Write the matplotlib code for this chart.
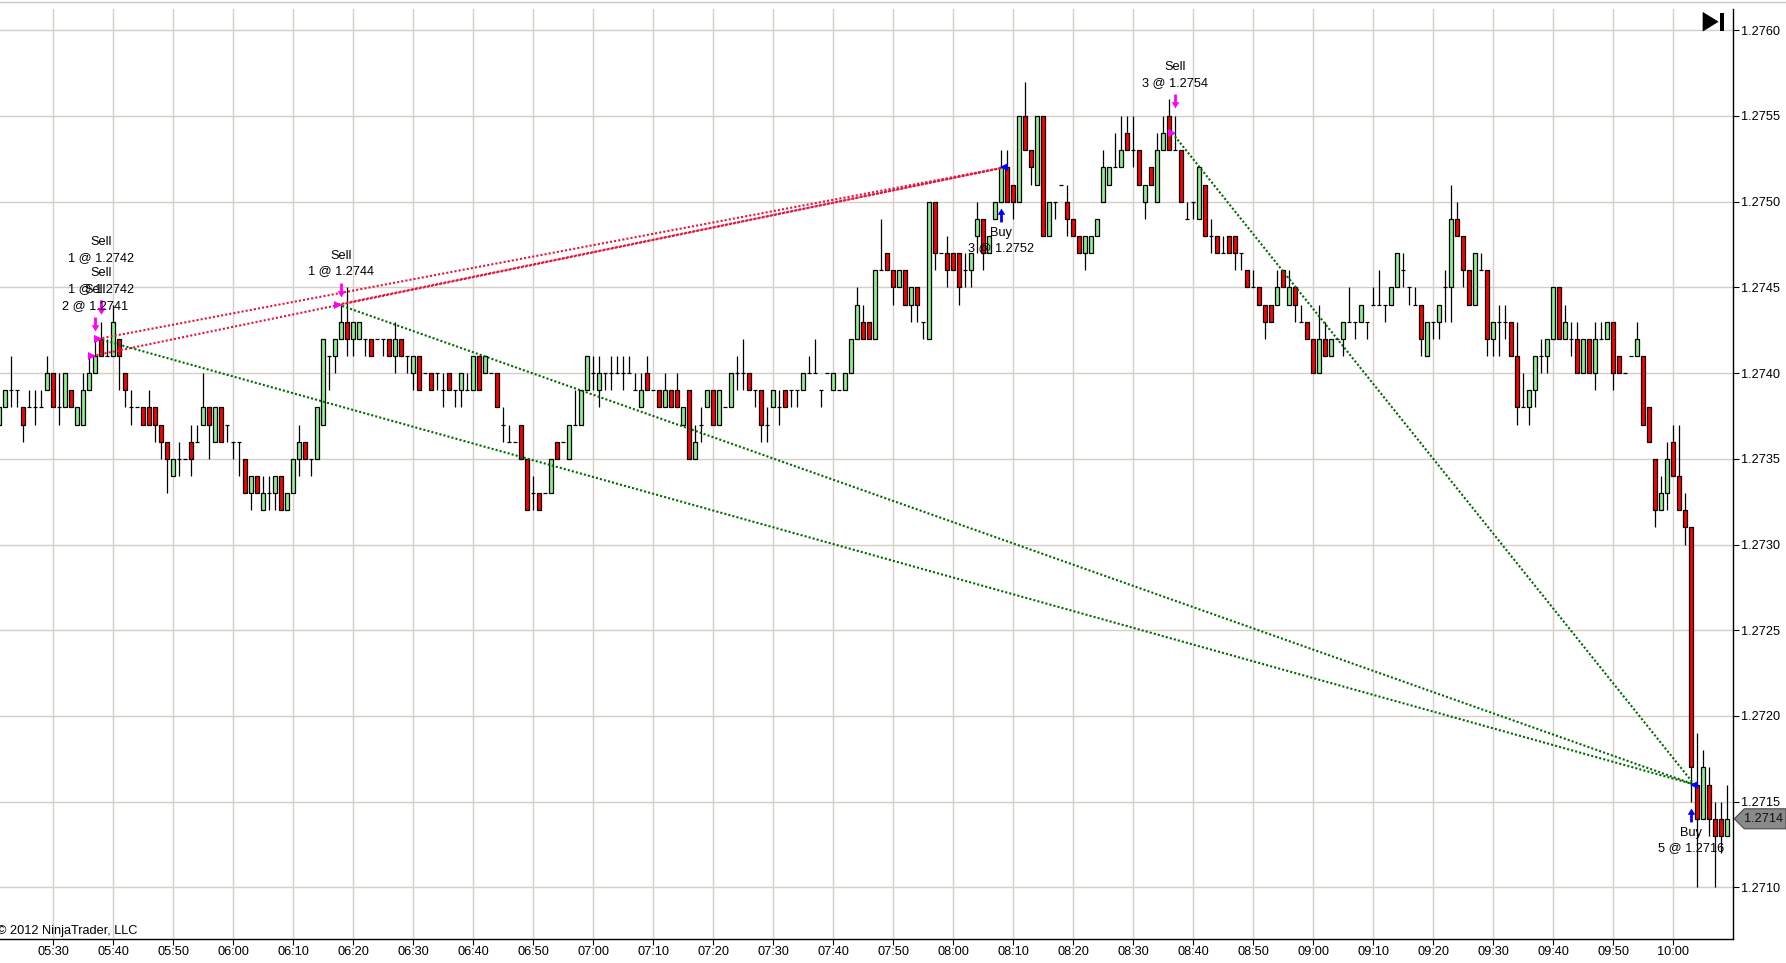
import numpy as np
import matplotlib
matplotlib.use("Agg")
import matplotlib.pyplot as plt
from matplotlib.path import Path
from matplotlib.patches import Polygon, Rectangle
from matplotlib.lines import Line2D
from matplotlib.transforms import ScaledTranslation, IdentityTransform

plt.rcParams['font.family'] = ['Liberation Sans', 'DejaVu Sans']

# ---------------- data (1-minute bars, prices = 1.2700 + pips/10000) ----------------
FIRST_BAR = "05:21"
PRICE_BASE = 1.2700
PIP = 0.0001

OPEN_PIPS = [
    37, 38, 39, 39, 38, 38, 38, 38, 39,            # 05:21-05:29
    40, 38, 38, 39, 37, 37, 39, 40, 42, 41,        # 05:30
    41, 42, 40, 38, 38, 38, 38, 38, 37, 36,        # 05:40
    34, 35, 35, 36, 36, 37, 38, 36, 38, 37,        # 05:50
    36, 36, 35, 33, 34, 32, 33, 33, 34, 32,        # 06:00
    33, 35, 36, 35, 35, 37, 41, 41, 42, 43,        # 06:10
    42, 42, 42, 42, 42, 42, 42, 41, 42, 41,        # 06:20
    40, 41, 40, 40, 40, 39, 40, 39, 39, 39,        # 06:30
    39, 41, 40, 40, 40, 37, 36, 36, 37, 35,        # 06:40
    33, 33, 33, 33, 36, 36, 35, 37, 37, 39,        # 06:50
    40, 39, 40, 40, 40, 40, 40, 39, 38, 40,        # 07:00
    39, 39, 38, 39, 39, 37, 39, 35, 37, 38,        # 07:10
    39, 37, 38, 38, 40, 40, 40, 39, 39, 37,        # 07:20
    38, 38, 39, 39, 39, 39, 40, 40, 39, 40,        # 07:30
    39, 39, 39, 40, 42, 43, 43, 42, 46, 47,        # 07:40
    46, 45, 46, 44, 45, 43, 42, 50, 47, 47,        # 07:50
    47, 47, 46, 46, 48, 49, 47, 49, 50, 52,        # 08:00
    51, 50, 55, 53, 51, 55, 48, 50, 51, 50,        # 08:10
    49, 48, 47, 47, 48, 50, 51, 52, 52, 54,        # 08:20
    53, 53, 50, 52, 50, 53, 55, 53, 53, 49,        # 08:30
    50, 49, 51, 48, 48, 47, 48, 48, 47, 46,        # 08:40
    45, 45, 44, 44, 44, 46, 44, 45, 43, 43,        # 08:50
    42, 40, 42, 41, 42, 42, 43, 43, 43, 43,        # 09:00
    44, 44, 44, 44, 45, 46, 45, 44, 44, 41,        # 09:10
    43, 43, 45, 45, 49, 48, 46, 44, 46, 46,        # 09:20
    42, 43, 43, 43, 41, 38, 38, 39, 41, 41,        # 09:30
    42, 45, 42, 42, 42, 40, 42, 40, 42, 42,        # 09:40
    43, 41, 40, 41, 41, 41, 38, 35, 32, 33,        # 09:50
    36, 34, 32, 31, 16, 14, 16, 14, 14, 13,        # 10:00
]
HIGH_PIPS = [
    38, 39, 41, 39, 38, 39, 39, 39, 41,
    40, 40, 40, 39, 38, 40, 41, 42, 43, 42,
    44, 42, 40, 39, 38, 38, 39, 38, 37, 36,
    35, 36, 35, 37, 37, 40, 38, 38, 38, 37,
    36, 36, 35, 34, 34, 34, 34, 34, 34, 33,
    35, 37, 36, 35, 38, 42, 41, 42, 44, 45,
    43, 43, 42, 42, 42, 42, 42, 43, 42, 41,
    41, 41, 40, 40, 40, 40, 40, 39, 40, 40,
    41, 41, 41, 40, 40, 38, 37, 36, 37, 35,
    34, 33, 33, 35, 36, 36, 37, 39, 39, 41,
    41, 41, 40, 41, 41, 41, 41, 40, 40, 41,
    39, 39, 40, 39, 40, 38, 39, 37, 38, 39,
    39, 39, 38, 40, 41, 42, 40, 39, 39, 38,
    39, 39, 39, 39, 39, 40, 41, 42, 39, 40,
    40, 39, 40, 42, 45, 44, 43, 46, 49, 47,
    46, 46, 46, 45, 45, 43, 50, 50, 47, 48,
    47, 47, 47, 47, 50, 49, 48, 50, 53, 53,
    51, 55, 57, 53, 55, 55, 50, 50, 51, 51,
    49, 48, 48, 48, 49, 53, 52, 54, 55, 55,
    55, 53, 51, 52, 54, 55, 56, 55, 53, 50,
    50, 52, 51, 49, 48, 48, 48, 48, 47, 46,
    46, 45, 44, 44, 46, 46, 46, 45, 44, 43,
    42, 44, 43, 42, 42, 43, 45, 43, 44, 43,
    45, 46, 44, 45, 47, 47, 45, 45, 44, 43,
    43, 44, 46, 51, 50, 48, 46, 47, 47, 46,
    43, 44, 44, 43, 43, 40, 39, 41, 42, 42,
    45, 45, 44, 43, 43, 42, 42, 43, 43, 43,
    43, 41, 40, 41, 43, 41, 38, 35, 34, 36,
    37, 37, 33, 31, 19, 18, 17, 15, 15, 16,
]
LOW_PIPS = [
    37, 38, 38, 38, 36, 38, 37, 38, 39,
    38, 37, 38, 38, 37, 37, 39, 40, 41, 41,
    41, 39, 38, 37, 38, 37, 37, 36, 35, 33,
    34, 34, 35, 34, 36, 37, 35, 36, 36, 36,
    35, 34, 33, 32, 33, 32, 32, 32, 32, 32,
    33, 34, 35, 34, 35, 37, 39, 40, 42, 41,
    41, 42, 41, 41, 42, 41, 41, 40, 41, 40,
    39, 39, 40, 39, 39, 38, 39, 38, 38, 39,
    39, 39, 40, 40, 38, 36, 36, 36, 35, 32,
    32, 32, 33, 33, 35, 36, 35, 37, 37, 39,
    39, 38, 39, 39, 40, 39, 40, 39, 38, 39,
    39, 38, 38, 38, 38, 37, 35, 35, 36, 38,
    37, 37, 38, 38, 39, 39, 39, 38, 36, 36,
    38, 37, 38, 38, 38, 39, 40, 40, 38, 40,
    39, 39, 39, 40, 42, 42, 42, 42, 46, 46,
    44, 45, 44, 43, 43, 42, 42, 46, 47, 45,
    46, 44, 45, 45, 47, 46, 47, 49, 50, 50,
    49, 50, 53, 51, 51, 48, 48, 49, 51, 48,
    48, 47, 46, 47, 48, 50, 51, 52, 52, 53,
    52, 51, 49, 51, 50, 53, 53, 53, 50, 49,
    49, 49, 48, 47, 47, 47, 47, 46, 46, 45,
    45, 44, 42, 43, 44, 45, 44, 43, 43, 42,
    40, 40, 41, 41, 42, 41, 43, 42, 43, 42,
    44, 44, 43, 44, 45, 45, 44, 44, 41, 41,
    42, 42, 43, 43, 48, 45, 44, 44, 46, 41,
    41, 41, 42, 41, 37, 38, 37, 38, 40, 40,
    42, 42, 42, 41, 40, 40, 40, 39, 42, 42,
    39, 40, 40, 41, 41, 37, 36, 31, 32, 32,
    34, 32, 30, 15, 10, 14, 13, 10, 12, 13,
]
CLOSE_PIPS = [
    38, 39, 39, 39, 37, 38, 38, 38, 40,
    38, 38, 40, 38, 38, 39, 40, 41, 41, 41,
    43, 41, 39, 38, 38, 37, 37, 37, 36, 35,
    35, 35, 35, 35, 36, 38, 37, 38, 36, 37,
    36, 36, 33, 34, 33, 33, 33, 34, 32, 33,
    35, 36, 35, 35, 38, 42, 41, 42, 43, 42,
    43, 43, 42, 41, 42, 42, 41, 42, 41, 41,
    41, 39, 40, 39, 40, 39, 39, 39, 40, 39,
    41, 39, 41, 40, 38, 37, 36, 36, 35, 32,
    33, 32, 33, 35, 35, 36, 37, 37, 39, 41,
    40, 40, 40, 40, 40, 40, 40, 39, 39, 39,
    39, 38, 39, 38, 38, 38, 35, 36, 37, 39,
    37, 39, 38, 40, 40, 40, 39, 39, 37, 37,
    39, 38, 38, 39, 39, 40, 40, 40, 39, 40,
    40, 39, 40, 42, 44, 42, 42, 46, 46, 46,
    45, 46, 44, 45, 44, 43, 50, 47, 47, 46,
    46, 45, 46, 47, 49, 47, 48, 50, 52, 50,
    50, 55, 53, 52, 55, 48, 50, 50, 51, 49,
    48, 47, 48, 48, 49, 52, 52, 52, 53, 53,
    53, 51, 51, 51, 53, 54, 53, 53, 50, 49,
    50, 52, 48, 48, 47, 47, 47, 47, 47, 45,
    45, 44, 43, 43, 45, 45, 45, 44, 43, 42,
    40, 42, 41, 42, 42, 43, 43, 43, 44, 43,
    44, 44, 44, 45, 47, 46, 45, 44, 42, 43,
    43, 44, 45, 49, 48, 46, 44, 47, 46, 42,
    43, 43, 43, 41, 38, 38, 39, 41, 41, 42,
    45, 42, 43, 42, 40, 42, 40, 42, 42, 43,
    40, 40, 40, 41, 42, 37, 36, 32, 33, 35,
    34, 32, 31, 17, 14, 17, 14, 13, 13, 14,
]

# executions
SELL_TIMES = ["05:37", "05:38", "05:38", "06:18", "08:37"]
SELL_QTY = [2, 1, 1, 1, 3]
SELL_PRICES = [1.2741, 1.2742, 1.2742, 1.2744, 1.2754]
BUY_TIMES = ["08:08", "10:03"]
BUY_QTY = [3, 5]
BUY_PRICES = [1.2752, 1.2716]
LOSS_PAIRS = [(0, 0), (1, 0), (3, 0)]   # (sell index, buy index) -> red dotted
WIN_PAIRS = [(2, 1), (3, 1), (4, 1)]    # -> green dotted

X_TICK_LABELS = ["05:30", "05:40", "05:50", "06:00", "06:10", "06:20", "06:30",
                 "06:40", "06:50", "07:00", "07:10", "07:20", "07:30", "07:40",
                 "07:50", "08:00", "08:10", "08:20", "08:30", "08:40", "08:50",
                 "09:00", "09:10", "09:20", "09:30", "09:40", "09:50", "10:00"]
Y_TICKS = [1.2710, 1.2715, 1.2720, 1.2725, 1.2730, 1.2735, 1.2740, 1.2745,
           1.2750, 1.2755, 1.2760]
Y_TICK_LABELS = ["1.2710", "1.2715", "1.2720", "1.2725", "1.2730", "1.2735",
                 "1.2740", "1.2745", "1.2750", "1.2755", "1.2760"]
COPYRIGHT = "© 2012 NinjaTrader, LLC"


def tmin(s):
    h, m = s.split(":")
    return int(h) * 60 + int(m)


# ---------------- figure ----------------
W, H, DPI = 1786, 963, 100
FS = 9.2
fig = plt.figure(figsize=(W / DPI, H / DPI), dpi=DPI)
fig.patch.set_facecolor("white")
AX_LEFT, AX_RIGHT, AX_TOP, AX_BOTTOM = 0.0, 1733.3, 9.0, 939.3   # pixels, top origin
ax = fig.add_axes([AX_LEFT / W, (H - AX_BOTTOM) / H,
                   (AX_RIGHT - AX_LEFT) / W, (AX_BOTTOM - AX_TOP) / H])
ax.set_facecolor("white")

t0 = tmin(FIRST_BAR)
n = len(OPEN_PIPS)
x = t0 + np.arange(n)
o = PRICE_BASE + np.array(OPEN_PIPS) * PIP
hi = PRICE_BASE + np.array(HIGH_PIPS) * PIP
lo = PRICE_BASE + np.array(LOW_PIPS) * PIP
c = PRICE_BASE + np.array(CLOSE_PIPS) * PIP
op = np.array(OPEN_PIPS)
cp = np.array(CLOSE_PIPS)
up = cp > op
dn = cp < op
dj = cp == op

ax.set_xlim(t0 + 0.12, x[-1] + 1)
ax.set_ylim(1.270697, 1.276124)

# grid
xt = [tmin(s) for s in X_TICK_LABELS]
ax.set_xticks(xt)
ax.set_xticklabels(X_TICK_LABELS, fontsize=FS)
ax.set_yticks(Y_TICKS)
ax.set_yticklabels(Y_TICK_LABELS, fontsize=FS)
ax.yaxis.tick_right()
ax.grid(True, color="#D4D0C8", lw=1.0)
ax.set_axisbelow(True)
ax.tick_params(axis="x", length=4.2, width=0.8, pad=0.5, color="black")
ax.tick_params(axis="y", length=4.6, width=0.8, pad=0.8, color="black")
for s in ("top", "left"):
    ax.spines[s].set_visible(False)
for s in ("right", "bottom"):
    ax.spines[s].set_color("black")
    ax.spines[s].set_linewidth(1.0)

# candles
BW = 0.72
ax.vlines(x, lo, hi, colors="black", lw=0.9, zorder=2)
ax.bar(x[up], (c - o)[up], bottom=o[up], width=BW, color="#90EE90",
       edgecolor="black", lw=0.9, zorder=3)
ax.bar(x[dn], (o - c)[dn], bottom=c[dn], width=BW, color="#FF0000",
       edgecolor="black", lw=0.9, zorder=3)
ax.hlines(o[dj], x[dj] - BW / 2, x[dj] + BW / 2, colors="black", lw=0.9, zorder=3)

# trade connection lines
for si, bi in LOSS_PAIRS:
    ax.plot([tmin(SELL_TIMES[si]) - 0.5, tmin(BUY_TIMES[bi]) + 0.5],
            [SELL_PRICES[si], BUY_PRICES[bi]], color="#E0183F", lw=1.5,
            ls=(0, (1, 1)), zorder=5)
for si, bi in WIN_PAIRS:
    ax.plot([tmin(SELL_TIMES[si]) - 0.5, tmin(BUY_TIMES[bi]) + 0.5],
            [SELL_PRICES[si], BUY_PRICES[bi]], color="#006A00", lw=1.5,
            ls=(0, (1, 1)), zorder=5)


def offset(dy_px, dx_px=0.0):
    return ax.transData + ScaledTranslation(dx_px / DPI, dy_px / DPI, fig.dpi_scale_trans)


down_arrow = Path([(-0.2, 1.0), (0.2, 1.0), (0.2, -0.1), (0.55, -0.1), (0.0, -1.0),
                   (-0.55, -0.1), (-0.2, -0.1), (-0.2, 1.0)])
up_arrow = Path([(-0.2, -1.0), (0.2, -1.0), (0.2, 0.1), (0.55, 0.1), (0.0, 1.0),
                 (-0.55, 0.1), (-0.2, 0.1), (-0.2, -1.0)])
ARROW_MS = 10.0

# sells
stack = {}
for t, q, p in zip(SELL_TIMES, SELL_QTY, SELL_PRICES):
    xi = tmin(t)
    bh = hi[xi - t0]
    k = stack.get(xi, 0)
    stack[xi] = k + 1
    ax.plot([xi - 0.5], [p], marker=">", color="#FF00FF", ms=5.5, mew=0, zorder=7)
    ax.plot([xi], [bh], marker=down_arrow, color="#FF00FF", ms=ARROW_MS, mew=0,
            transform=offset(15), zorder=7)
    ax.text(xi, bh, f"{q} @ {p:.4f}", transform=offset(33 + 31 * k), ha="center",
            va="center", fontsize=FS, color="black", zorder=8)
    ax.text(xi, bh, "Sell", transform=offset(48.5 + 31 * k), ha="center",
            va="center", fontsize=FS, color="black", zorder=8)

# buys
for t, q, p in zip(BUY_TIMES, BUY_QTY, BUY_PRICES):
    xi = tmin(t)
    bl = lo[xi - t0]
    ax.plot([xi + 0.5], [p], marker="<", color="#0000FF", ms=5.5, mew=0, zorder=7)
    ax.plot([xi], [bl], marker=up_arrow, color="#0000FF", ms=ARROW_MS, mew=0,
            transform=offset(-13), zorder=7)
    ax.text(xi, bl, "Buy", transform=offset(-31), ha="center", va="center",
            fontsize=FS, color="black", zorder=8)
    ax.text(xi, bl, f"{q} @ {p:.4f}", transform=offset(-46.5), ha="center",
            va="center", fontsize=FS, color="black", zorder=8)

# current price tag on the right axis
last = c[-1]
yp = ax.transData.transform((x[-1], last))[1]
xr = ax.transAxes.transform((1.0, 0.0))[0]
tag = Polygon([(xr + 1, yp), (xr + 11, yp + 10), (W, yp + 10), (W, yp - 10),
               (xr + 11, yp - 10)], closed=True, transform=IdentityTransform(),
              facecolor="#8A8A8A", edgecolor="#4A4A4A", lw=0.8)
fig.add_artist(tag)
fig.text((xr + 30.5) / W, yp / H, f"{last:.4f}", ha="center", va="center",
         fontsize=FS, color="#111111")

# "go to end" icon top right
icon_tri = Polygon([(1703, H - 12.5), (1703, H - 31), (1718, H - 21.7)], closed=True,
                   transform=IdentityTransform(), facecolor="black", edgecolor="black", lw=0.5)
icon_bar = Rectangle((1720, H - 31), 3.5, 18.5, transform=IdentityTransform(),
                     facecolor="black", edgecolor="none")
fig.add_artist(icon_tri)
fig.add_artist(icon_bar)

# top border
fig.add_artist(Line2D([0, W], [H - 1.5, H - 1.5], transform=IdentityTransform(),
                      color="#C8C8C8", lw=1.0))

# copyright
fig.text(-3 / W, (H - 931) / H, COPYRIGHT, ha="left", va="center", fontsize=FS,
         color="black")

fig.savefig("out.png", dpi=DPI)
